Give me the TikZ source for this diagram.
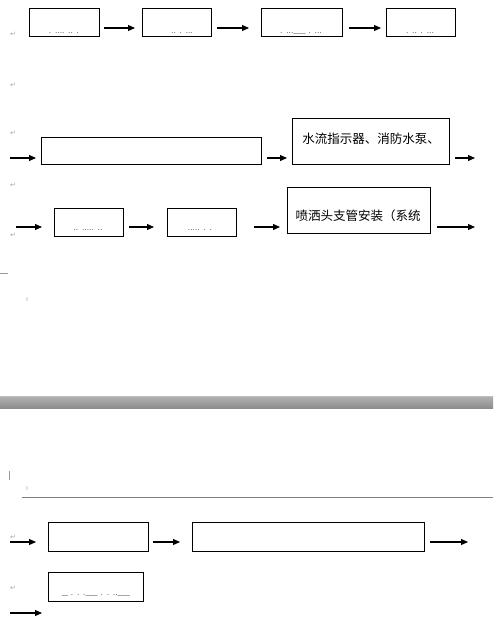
\documentclass[tikz,border=0pt]{standalone}
\usepackage{fontspec}
\newfontfamily\cjk{Noto Sans CJK SC}
\newfontfamily\dejavu{DejaVu Sans}
\usetikzlibrary{arrows.meta}
\tikzset{
  box/.style={draw=black, line width=1pt},
  flow/.style={line width=1.1pt, -{Triangle[length=7pt,width=6pt]}},
  pmark/.style={text=black!35, font=\dejavu\fontsize{7}{7}\selectfont, inner sep=0pt},
  frag/.style={text=black!80, font=\fontsize{6}{6}\selectfont\bfseries, inner sep=0pt},
  cjktext/.style={font=\cjk\fontsize{12.5}{14}\selectfont, inner sep=0pt}
}
\begin{document}
\begin{tikzpicture}[x=1pt,y=-1pt]
\useasboundingbox (0,0) rectangle (493,618);
\fill[white] (0,0) rectangle (493,618);
% band
\shade[top color=black!30, bottom color=black!45] (0,396) rectangle (493,408);
\draw[black!25, line width=0.8pt] (0,396) -- (493,396);
\draw[black!50, line width=0.8pt] (22,497) -- (493,497);
\draw[black!40, line width=0.6pt] (0,273) -- (8,273);
\draw[black!40, line width=0.6pt] (9,471) -- (9,480);
% row 1
\draw[box] (29,9) rectangle (99,37);
\draw[box] (142,9) rectangle (211,37);
\draw[box] (261,9) rectangle (342,37);
\draw[box] (386,9) rectangle (455,37);
\node[frag] (f1) at (64,33) {. .... .. .};
\node[frag] (f2) at (182,33) {.. . ...};
\node[frag] (f3) at (301,33) {. ...\_\_ . ...};
\node[frag] (f4) at (420,33) {. .. . ...};
\coordinate (a1s) at (104,28); \coordinate (a1e) at (135,28);
\coordinate (a2s) at (217,28); \coordinate (a2e) at (249,28);
\coordinate (a3s) at (349,28); \coordinate (a3e) at (381,28);
\draw[flow] (a1s) -- (a1e);
\draw[flow] (a2s) -- (a2e);
\draw[flow] (a3s) -- (a3e);
% row 2
\draw[box] (41,137) rectangle (261,164);
\draw[box] (292,118) rectangle (449,164);
\node[cjktext] (t6) at (371,139) {水流指示器、消防水泵、};
\coordinate (b1s) at (10,158); \coordinate (b1e) at (36,158);
\coordinate (b2s) at (267,158); \coordinate (b2e) at (287,158);
\coordinate (b3s) at (455,158); \coordinate (b3e) at (475,158);
\draw[flow] (b1s) -- (b1e);
\draw[flow] (b2s) -- (b2e);
\draw[flow] (b3s) -- (b3e);
% row 3
\draw[box] (54,208) rectangle (123,236);
\draw[box] (167,208) rectangle (236,236);
\draw[box] (287,187) rectangle (430,233);
\node[frag] (f7) at (88,230) {.. ..... ..};
\node[frag] (f8) at (200,230) {..... . .};
\node[cjktext] (t9) at (358,216) {喷洒头支管安装（系统};
\coordinate (c1s) at (16,227); \coordinate (c1e) at (42,227);
\coordinate (c2s) at (129,227); \coordinate (c2e) at (154,227);
\coordinate (c3s) at (254,227); \coordinate (c3e) at (280,227);
\coordinate (c4s) at (437,227); \coordinate (c4e) at (475,227);
\draw[flow] (c1s) -- (c1e);
\draw[flow] (c2s) -- (c2e);
\draw[flow] (c3s) -- (c3e);
\draw[flow] (c4s) -- (c4e);
% row 4
\draw[box] (48,522) rectangle (148,551);
\draw[box] (192,522) rectangle (424,551);
\coordinate (d1s) at (10,542); \coordinate (d1e) at (36,542);
\coordinate (d2s) at (153,542); \coordinate (d2e) at (180,542);
\coordinate (d3s) at (430,542); \coordinate (d3e) at (468,542);
\draw[flow] (d1s) -- (d1e);
\draw[flow] (d2s) -- (d2e);
\draw[flow] (d3s) -- (d3e);
% row 5
\draw[box] (48,572) rectangle (143,601);
\node[frag] (f12) at (96,595) {\_ . . .\_\_ . . ..\_\_};
\coordinate (e1s) at (10,613); \coordinate (e1e) at (42,613);
\draw[flow] (e1s) -- (e1e);
% paragraph marks
\node[pmark] (m1) at (13,34) {↵};
\node[pmark] (m2) at (13,85) {↵};
\node[pmark] (m3) at (13,133) {↵};
\node[pmark] (m4) at (13,185) {↵};
\node[pmark] (m5) at (13,235) {↵};
\node[pmark] (m6) at (27,300) {ı};
\node[pmark] (m7) at (27,489) {ı};
\node[pmark] (m8) at (13,537) {↵};
\node[pmark] (m9) at (13,588) {↵};
\end{tikzpicture}
\end{document}
